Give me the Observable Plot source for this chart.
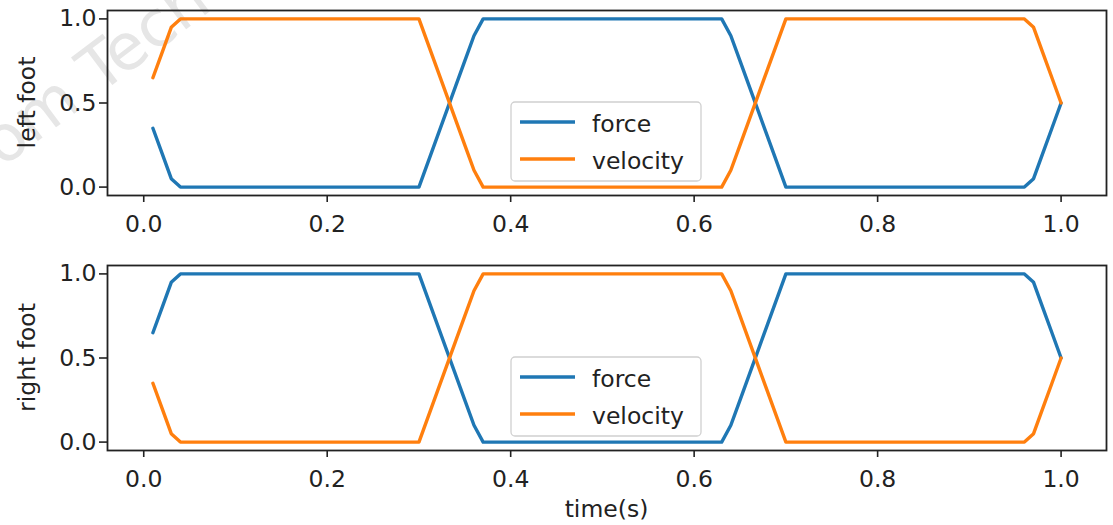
<!DOCTYPE html>
<html>
<head>
<meta charset="utf-8">
<script src="https://cdn.jsdelivr.net/npm/d3@7"></script>
<script src="https://cdn.jsdelivr.net/npm/@observablehq/plot@0.6"></script>
<style>
  html, body { margin: 0; padding: 0; background: #fff; }
  #chart svg { display: block; }
</style>
</head>
<body>
<div id="chart"></div>
<script>
// ---- data ----
const time = [0.01, 0.02, 0.03, 0.04, 0.30, 0.31, 0.32, 0.33, 0.34, 0.35, 0.36, 0.37,
              0.63, 0.64, 0.65, 0.66, 0.67, 0.68, 0.69, 0.70, 0.96, 0.97, 0.98, 0.99, 1.00];
const leftForce     = [0.35, 0.20, 0.05, 0, 0, 0.15, 0.30, 0.45, 0.60, 0.75, 0.90, 1,
                       1, 0.90, 0.75, 0.60, 0.45, 0.30, 0.15, 0, 0, 0.05, 0.20, 0.35, 0.50];
const leftVelocity  = [0.65, 0.80, 0.95, 1, 1, 0.85, 0.70, 0.55, 0.40, 0.25, 0.10, 0,
                       0, 0.10, 0.25, 0.40, 0.55, 0.70, 0.85, 1, 1, 0.95, 0.80, 0.65, 0.50];
const rightForce    = [0.65, 0.80, 0.95, 1, 1, 0.85, 0.70, 0.55, 0.40, 0.25, 0.10, 0,
                       0, 0.10, 0.25, 0.40, 0.55, 0.70, 0.85, 1, 1, 0.95, 0.80, 0.65, 0.50];
const rightVelocity = [0.35, 0.20, 0.05, 0, 0, 0.15, 0.30, 0.45, 0.60, 0.75, 0.90, 1,
                       1, 0.90, 0.75, 0.60, 0.45, 0.30, 0.15, 0, 0, 0.05, 0.20, 0.35, 0.50];
const seriesNames = ["force", "velocity"];
const seriesColors = ["#1f77b4", "#ff7f0e"];
const xTicks = [0, 0.2, 0.4, 0.6, 0.8, 1.0];
const yTicks = [0, 0.5, 1.0];

const FONT = "DejaVu Sans, sans-serif";
const FS = "23.5px";
const W = 1113, ML = 107, MR = 7;

function panel(ylabel, force, velocity, height, marginTop, marginBottom, xlabel) {
  const data = time.flatMap((t, i) => [
    {t, v: force[i], s: seriesNames[0]},
    {t, v: velocity[i], s: seriesNames[1]}
  ]);
  const svg = Plot.plot({
    width: W, height, marginLeft: ML, marginRight: MR, marginTop, marginBottom,
    style: {fontFamily: FONT, fontSize: FS, color: "#222", background: "transparent"},
    x: {domain: [-0.0395, 1.0495]},
    y: {domain: [-0.05, 1.05]},
    color: {domain: seriesNames, range: seriesColors},
    marks: [
      Plot.axisX({ticks: xTicks, tickFormat: d => d.toFixed(1), tickSize: 7, tickPadding: 13, label: null, strokeWidth: 1.6}),
      Plot.axisY({ticks: yTicks, tickFormat: d => d.toFixed(1), tickSize: 8, tickPadding: 3, label: null, strokeWidth: 1.6}),
      Plot.line(data, {x: "t", y: "v", stroke: "s", z: "s", strokeWidth: 3.4}),
      Plot.frame({stroke: "#222", strokeWidth: 1.8})
    ]
  });
  const s = d3.select(svg);
  const frameTop = marginTop, frameBottom = height - marginBottom;
  // y label
  s.append("text")
    .attr("transform", `translate(35,${(frameTop + frameBottom) / 2}) rotate(-90)`)
    .attr("text-anchor", "middle")
    .attr("font-family", FONT).attr("font-size", FS).attr("fill", "#222")
    .text(ylabel);
  // legend
  const lg = s.append("g").attr("transform", `translate(511,${frameTop + 92})`);
  lg.append("rect").attr("x", 0).attr("y", 0).attr("width", 190).attr("height", 79)
    .attr("rx", 4).attr("fill", "#fff").attr("fill-opacity", 0.8)
    .attr("stroke", "#d0d0d0").attr("stroke-width", 1.3);
  seriesNames.forEach((name, i) => {
    const y = 20 + i * 37;
    lg.append("line").attr("x1", 9).attr("x2", 64).attr("y1", y).attr("y2", y)
      .attr("stroke", seriesColors[i]).attr("stroke-width", 3.4);
    lg.append("text").attr("x", 81).attr("y", y + 10)
      .attr("text-anchor", "start")
      .attr("font-family", FONT).attr("font-size", FS).attr("fill", "#222")
      .text(name);
  });
  if (xlabel) {
    s.append("text")
      .attr("x", (ML + W - MR) / 2).attr("y", height - 8)
      .attr("text-anchor", "middle")
      .attr("font-family", FONT).attr("font-size", FS).attr("fill", "#222")
      .text(xlabel);
  }
  return svg;
}

const topPanel = panel("left foot", leftForce, leftVelocity, 250, 10, 55, null);
// faint watermark
d3.select(topPanel).insert("text", ":first-child")
  .attr("transform", "translate(2,168) rotate(-37)")
  .attr("text-anchor", "start")
  .attr("font-family", FONT).attr("font-size", "64px").attr("fill", "#e6e6e6")
  .text("om Tech");
const bottomPanel = panel("right foot", rightForce, rightVelocity, 275, 15, 75, "time(s)");
document.getElementById("chart").append(topPanel, bottomPanel);
</script>
</body>
</html>
